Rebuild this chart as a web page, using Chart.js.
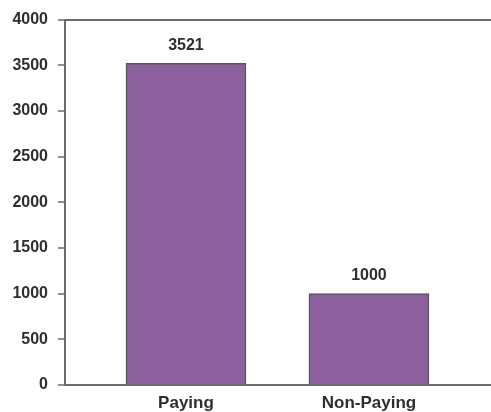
<!DOCTYPE html>
<html>
<head>
<meta charset="utf-8">
<script src="https://cdn.jsdelivr.net/npm/chart.js@4.4.0/dist/chart.umd.min.js"></script>
<style>
    html, body { margin: 0; padding: 0; background: #fff; }
    #wrap { width: 491px; height: 412px; }
</style>
</head>
<body>
<div id="wrap"><canvas id="payChart"></canvas></div>
<script>
// chart data
const categories = ['Paying', 'Non-Paying'];
const counts = [3521, 1000];
const yTicks = [0, 500, 1000, 1500, 2000, 2500, 3000, 3500, 4000];

const textColor = '#2e2e2e';
const axisColor = '#6a6a6a';
const fontFamily = "'Liberation Sans', Arial, sans-serif";

// bars sit at x = 1, 2 on a linear scale so the left gap matches the picture
const points = counts.map((v, i) => ({ x: i + 1, y: v }));

// value labels above each bar
const valueLabels = {
    id: 'valueLabels',
    afterDatasetsDraw(chart) {
        const ctx = chart.ctx;
        const meta = chart.getDatasetMeta(0);
        ctx.save();
        ctx.font = 'bold 16px ' + fontFamily;
        ctx.fillStyle = textColor;
        ctx.textAlign = 'center';
        ctx.textBaseline = 'bottom';
        meta.data.forEach((bar, i) => {
            ctx.fillText(String(counts[i]), bar.x, bar.y - 10);
        });
        ctx.restore();
    }
};

new Chart(document.getElementById('payChart'), {
    type: 'bar',
    data: {
        datasets: [{
            data: points,
            backgroundColor: '#8c609d',
            borderColor: '#555555',
            borderWidth: 1.5,
            barThickness: 120
        }]
    },
    options: {
        responsive: true,
        maintainAspectRatio: false,
        animation: false,
        layout: {
            padding: { top: 19, right: 0, left: 0, bottom: 0 }
        },
        plugins: {
            legend: { display: false },
            tooltip: { enabled: false }
        },
        scales: {
            x: {
                type: 'linear',
                offset: false,
                min: 0.339,
                max: 2.667,
                afterBuildTicks(scale) {
                    scale.ticks = categories.map((c, i) => ({ value: i + 1 }));
                },
                afterFit(scale) { scale.height = 27; },
                grid: { display: false, drawTicks: false },
                border: { display: true, color: axisColor, width: 2 },
                ticks: {
                    padding: 8,
                    maxRotation: 0,
                    autoSkip: false,
                    color: textColor,
                    font: { family: fontFamily, size: 17, weight: 'bold' },
                    callback: (v) => categories[v - 1] || ''
                }
            },
            y: {
                min: 0,
                max: 4000,
                afterBuildTicks(scale) {
                    scale.ticks = yTicks.map(v => ({ value: v }));
                },
                afterFit(scale) { scale.width = 65; },
                grid: {
                    drawOnChartArea: true,
                    color: (c) => c.tick && c.tick.value === 4000 ? axisColor : 'rgba(0,0,0,0)',
                    lineWidth: 2,
                    tickColor: axisColor,
                    tickLength: 7,
                    tickWidth: 1.5
                },
                border: { display: true, color: axisColor, width: 2 },
                ticks: {
                    padding: 10,
                    color: textColor,
                    font: { family: fontFamily, size: 16, weight: 'bold' },
                    callback: (v) => String(v)
                }
            }
        }
    },
    plugins: [valueLabels]
});
</script>
</body>
</html>
